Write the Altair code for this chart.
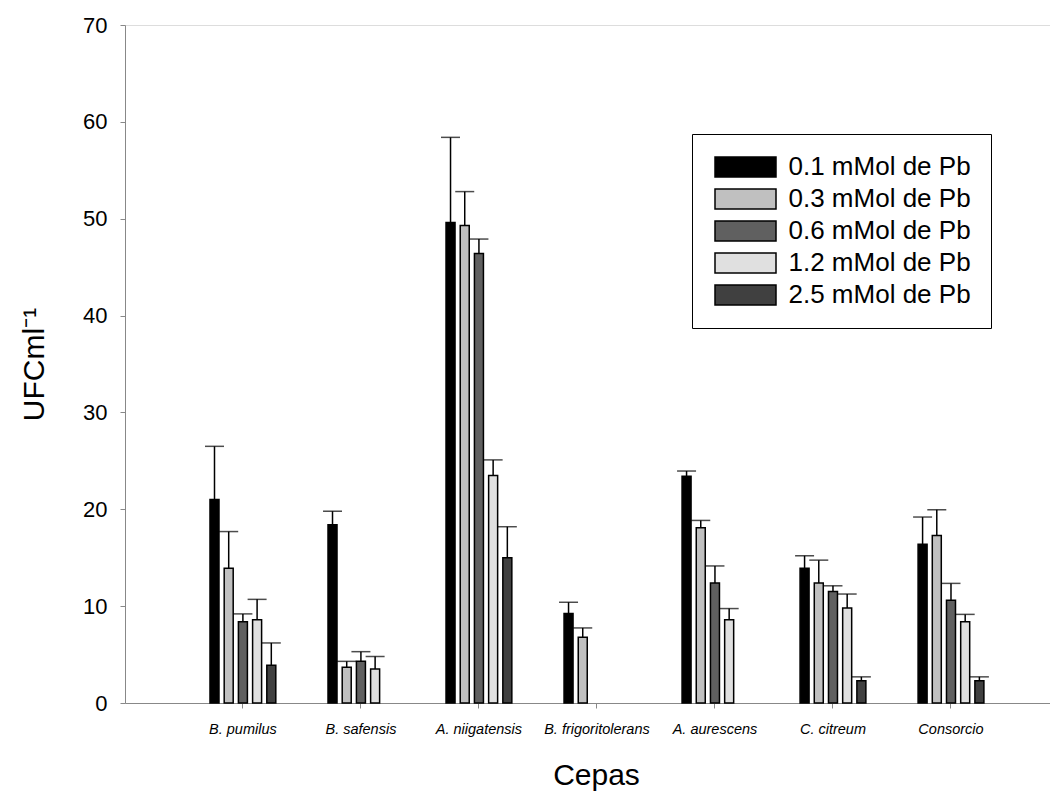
import altair as alt
import pandas as pd

cepas = ["B. pumilus", "B. safensis", "A. niigatensis", "B. frigoritolerans",
         "A. aurescens", "C. citreum", "Consorcio"]
series = ["0.1 mMol de Pb", "0.3 mMol de Pb", "0.6 mMol de Pb",
          "1.2 mMol de Pb", "2.5 mMol de Pb"]
colors = ["#000000", "#c0c0c0", "#606060", "#e0e0e0", "#404040"]

# mean values per series (one per cepa, None = no bar)
v01 = [21.0, 18.4, 49.6, 9.25, 23.4, 13.9, 16.4]
v03 = [13.9, 3.7, 49.3, 6.8, 18.1, 12.4, 17.3]
v06 = [8.4, 4.3, 46.4, None, 12.4, 11.5, 10.6]
v12 = [8.6, 3.5, 23.5, None, 8.6, 9.8, 8.4]
v25 = [3.9, None, 15.0, None, None, 2.3, 2.3]

# upper error amounts
e01 = [5.5, 1.4, 8.8, 1.15, 0.55, 1.3, 2.8]
e03 = [3.8, 0.6, 3.5, 0.95, 0.75, 2.35, 2.65]
e06 = [0.8, 1.0, 1.5, None, 1.75, 0.6, 1.75]
e12 = [2.1, 1.3, 1.6, None, 1.15, 1.45, 0.75]
e25 = [2.3, None, 3.2, None, None, 0.4, 0.4]

vals = [v01, v03, v06, v12, v25]
errs = [e01, e03, e06, e12, e25]

rows = []
for s, vs, es in zip(series, vals, errs):
    for c, v, e in zip(cepas, vs, es):
        if v is None:
            continue
        rows.append({"cepa": c, "serie": s, "valor": v, "top": v + e})
df = pd.DataFrame(rows)

FONT = "Liberation Sans"

x_enc = alt.X("cepa:N", sort=cepas,
              scale=alt.Scale(domain=cepas, paddingInner=0.322, paddingOuter=0.58, align=0.569),
              axis=alt.Axis(title="Cepas", labelAngle=0, labelFontStyle="italic",
                            labelFontSize=14.5, labelPadding=14, titleFontSize=30,
                            titleFontWeight="normal", titleX=471, titleY=81,
                            titleBaseline="alphabetic"))
xo_enc = alt.XOffset("serie:N", sort=series,
                     scale=alt.Scale(domain=series, paddingInner=0.366, paddingOuter=0.5))
y_axis = alt.Axis(title="UFCml⁻¹", values=list(range(0, 71, 10)), labelFontSize=22,
                  labelPadding=13, titleFontSize=30, titleFontWeight="normal",
                  titleX=-82, titleBaseline="alphabetic", grid=False)

base = alt.Chart(df)

bars = base.mark_bar(stroke="black", strokeWidth=1.5).encode(
    x=x_enc,
    xOffset=xo_enc,
    y=alt.Y("valor:Q", scale=alt.Scale(domain=[0, 70], nice=False), axis=y_axis),
    fill=alt.Fill("serie:N", sort=series,
                  scale=alt.Scale(domain=series, range=colors),
                  legend=alt.Legend(title=None, orient="none", legendX=567, legendY=109,
                                    padding=20, fillColor="white", strokeColor="black",
                                    labelFont=FONT, labelFontSize=26, labelLimit=0,
                                    labelOffset=30, symbolOffset=20.5,
                                    rowPadding=6, symbolSize=400,
                                    symbolType="M-3.05,-1L3.05,-1L3.05,1L-3.05,1Z",
                                    symbolStrokeColor="black", symbolStrokeWidth=1.5,
                                    symbolOpacity=1)),
)

rules = base.mark_rule(color="black", strokeWidth=1.5).encode(
    x=x_enc, xOffset=xo_enc, y="valor:Q", y2="top:Q")

caps = base.mark_tick(color="black", thickness=1.5, size=19, orient="horizontal").encode(
    x=x_enc, xOffset=xo_enc, y="top:Q")

chart = alt.layer(rules, bars, caps).properties(
    width=925, height=678,
    padding={"left": 117, "top": 17, "right": 0, "bottom": 88},
    autosize=alt.AutoSizeParams(type="none"),
).configure_view(stroke=None).configure_axis(
    labelFont=FONT, titleFont=FONT, labelColor="black", titleColor="black",
    domainColor="black", domainWidth=1.5, tickColor="black", tickWidth=1.5, tickSize=9,
    grid=False,
).configure(background="white")

chart.save("out.html", embed_options={"renderer": "svg", "actions": False})
